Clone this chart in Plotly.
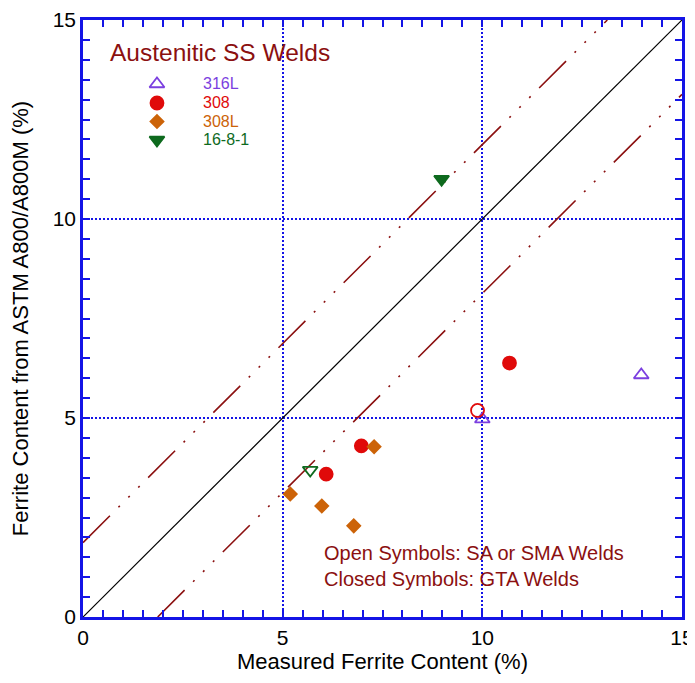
import plotly.graph_objects as go

# ---- data ----
s316L_x = [10.0, 13.98]
s316L_y = [4.97, 6.08]
s316L_open = [True, True]

s308_x = [10.68, 6.97, 6.09, 9.88]
s308_y = [6.38, 4.30, 3.59, 5.19]
s308_open = [False, False, False, True]

s308L_x = [7.29, 5.19, 5.98, 6.78]
s308L_y = [4.28, 3.09, 2.79, 2.29]
s308L_open = [False, False, False, False]

s1681_x = [8.98, 5.69]
s1681_y = [11.0, 3.69]
s1681_open = [False, True]

band_offset = 1.87
axis_min, axis_max = 0, 15

DARKRED = "#8B1010"
BLUE = "#1414E6"
FONT = "Liberation Sans, Arial, sans-serif"

series = [
    ("316L", s316L_x, s316L_y, s316L_open, "triangle-up", "#7B3FE0", 13),
    ("308", s308_x, s308_y, s308_open, "circle", "#E00A0A", 13),
    ("308L", s308L_x, s308L_y, s308L_open, "diamond", "#CC6308", 10),
    ("16-8-1", s1681_x, s1681_y, s1681_open, "triangle-down", "#0E6A1E", 13),
]

fig = go.Figure()

DASH = "38px,12px,2px,12px,2px,12px,2px,12px"
# reference lines
fig.add_trace(go.Scatter(x=[axis_min, axis_max], y=[axis_min, axis_max], mode="lines",
                         line=dict(color="black", width=1.2), showlegend=False, hoverinfo="skip"))
fig.add_trace(go.Scatter(x=[axis_min, axis_max - band_offset], y=[axis_min + band_offset, axis_max],
                         mode="lines", line=dict(color=DARKRED, width=1.6, dash=DASH),
                         showlegend=False, hoverinfo="skip"))
fig.add_trace(go.Scatter(x=[axis_min + band_offset, axis_max], y=[axis_min, axis_max - band_offset],
                         mode="lines", line=dict(color=DARKRED, width=1.6, dash=DASH),
                         showlegend=False, hoverinfo="skip"))

# data markers
for name, xs, ys, opens, sym, col, size in series:
    symbols = [sym + "-open" if o else sym for o in opens]
    fig.add_trace(go.Scatter(
        x=xs, y=ys, mode="markers", name=name, showlegend=False,
        marker=dict(symbol=symbols, color=col, size=size, line=dict(color=col, width=1.8)),
    ))

# legend block (key glyphs on a hidden 0..1 overlay axis; text as annotations)
key_x = 0.1235
key_text_x = 0.1965
key_rows = [0.8928, 0.861, 0.830, 0.799]
for (name, xs, ys, opens, sym, col, size), ky in zip(series, key_rows):
    key_sym = sym + "-open" if opens[0] else sym
    fig.add_trace(go.Scatter(
        x=[key_x], y=[ky], xaxis="x2", yaxis="y2", mode="markers", showlegend=False,
        hoverinfo="skip",
        marker=dict(symbol=key_sym, color=col, size=size, line=dict(color=col, width=1.8)),
    ))
    fig.add_annotation(x=key_text_x, y=ky, xref="paper", yref="paper", xanchor="left",
                       yanchor="middle", showarrow=False, text=name,
                       font=dict(family=FONT, size=16, color=col))

fig.add_annotation(x=0.0417, y=0.946, xref="paper", yref="paper", xanchor="left",
                   yanchor="middle", showarrow=False, text="Austenitic SS Welds",
                   font=dict(family=FONT, size=24.5, color=DARKRED))

fig.add_annotation(
    x=(322 - 83) / 599, y=(617 - 566) / 597, xref="paper", yref="paper",
    xanchor="left", yanchor="middle", align="left", showarrow=False,
    text="Open Symbols: SA or SMA Welds<br>Closed Symbols: GTA Welds",
    font=dict(family=FONT, size=20, color=DARKRED),
)

axis_common = dict(
    range=[axis_min, axis_max], tick0=0, dtick=5, ticks="inside", ticklen=7,
    tickwidth=1.5, tickcolor=BLUE, showline=True, linecolor=BLUE, linewidth=2.5,
    mirror="ticks", showgrid=True, gridcolor=BLUE, griddash="2px,2px", gridwidth=1.5,
    zeroline=False, automargin=False,
    tickfont=dict(family=FONT, size=21, color="black"),
    minor=dict(dtick=0.5, tick0=0, ticks="inside", ticklen=7, tickwidth=1.5,
               tickcolor=BLUE, showgrid=False),
)

fig.update_xaxes(**axis_common,
                 title=dict(text="Measured Ferrite Content (%)", standoff=5,
                            font=dict(family=FONT, size=22, color="black")))
fig.update_yaxes(**axis_common,
                 title=dict(text="Ferrite Content from ASTM A800/A800M (%)", standoff=20,
                            font=dict(family=FONT, size=22, color="black")))

# the page body has an 8px margin, so the figure is 8px smaller and shifted
fig.update_layout(
    width=687, height=675,
    margin=dict(l=75, r=13, t=12, b=66),
    paper_bgcolor="white", plot_bgcolor="white",
    font=dict(family=FONT),
    showlegend=False,
    xaxis2=dict(overlaying="x", range=[0, 1], visible=False, fixedrange=True),
    yaxis2=dict(overlaying="y", range=[0, 1], visible=False, fixedrange=True),
)

fig.write_html("out.html")
